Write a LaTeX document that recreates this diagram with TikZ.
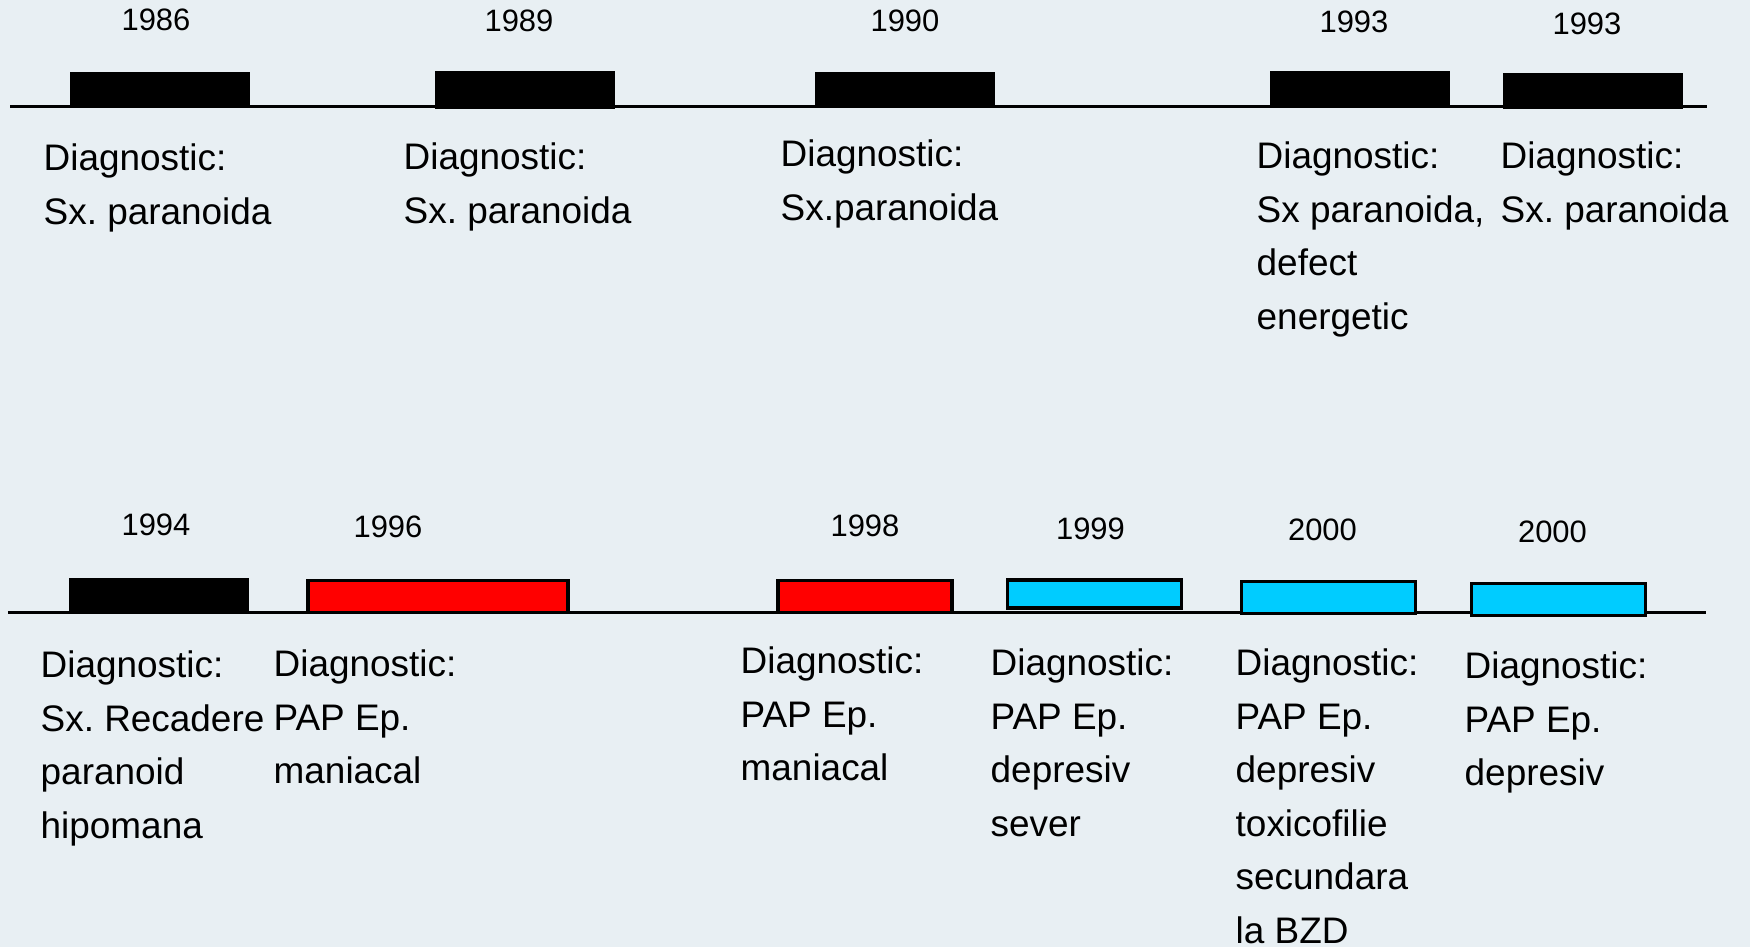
\documentclass[tikz,border=0pt]{standalone}
\usepackage{fontspec}
\setmainfont{Liberation Sans}
\usetikzlibrary{positioning}
\definecolor{bgblue}{HTML}{E8EFF3}
\definecolor{epred}{HTML}{FF0000}
\definecolor{epcyan}{HTML}{00CCFF}
\frenchspacing

\begin{document}
\begin{tikzpicture}[x=0.01cm, y=-0.01cm,
    axis/.style={line width=0.85pt},
    blk/.style={fill=black, minimum width=1.8cm, minimum height=0.35cm, inner sep=0},
    boxed/.style={draw=black, line width=1.1pt, minimum width=1.74cm, minimum height=0.32cm, inner sep=0},
    year/.style={font=\fontsize{8.8}{10}\selectfont, inner sep=0},
    diag/.style={font=\fontsize{10.5}{15.25}\selectfont, align=left, anchor=north west, inner sep=0}]
        \fill[bgblue] (0,0) rectangle (1750,947);
        \useasboundingbox (0,0) rectangle (1750,947);

        % the two time axes
        \coordinate (t1) at (10,106);
        \coordinate (t2) at (1707,106);
        \coordinate (b1) at (8,612);
        \coordinate (b2) at (1706,612);
        \draw[axis] (t1) -- (t2);
        \draw[axis] (b1) -- (b2);

        % first row
        \node[blk] (a) at (160,89) {};
        \node[blk, minimum height=0.38cm] (b) at (525,90) {};
        \node[blk, minimum height=0.36cm] (c) at (905,90) {};
        \node[blk] (d) at (1360,88.5) {};
        \node[blk, minimum height=0.36cm] (e) at (1593,91) {};

        \node[year, xshift=-0.04cm] (ya) [above=0.39cm of a] {1986};
        \node[year, xshift=-0.06cm] (yb) [above=0.38cm of b] {1989};
        \node[year] (yc) [above=0.39cm of c] {1990};
        \node[year, xshift=-0.06cm] (yd) [above=0.37cm of d] {1993};
        \node[year, xshift=-0.06cm] (ye) [above=0.37cm of e] {1993};

        \node[diag] (da) at (43,143) {Diagnostic:\\Sx. paranoida};
        \node[diag] (db) at (403,142) {Diagnostic:\\Sx. paranoida};
        \node[diag] (dc) at (780,139) {Diagnostic:\\Sx.paranoida};
        \node[diag] (dd) at (1256,141) {Diagnostic:\\Sx paranoida,\\defect\\energetic};
        \node[diag] (de) at (1500,141) {Diagnostic:\\Sx. paranoida};

        % second row
        \node[blk] (f) at (159,595) {};
        \node[boxed, fill=epred, minimum width=2.6cm] (g) at (438,596.5) {};
        \node[boxed, fill=epred] (h) at (865,596.5) {};
        \node[boxed, fill=epcyan, minimum height=0.28cm] (i) at (1094.5,594) {};
        \node[boxed, fill=epcyan] (j) at (1328.5,597.5) {};
        \node[boxed, fill=epcyan] (k) at (1558.5,599.5) {};

        \node[year, xshift=-0.03cm] (yf) [above=0.40cm of f] {1994};
        \node[year, xshift=-0.5cm] (yg) [above=0.40cm of g] {1996};
        \node[year] (yh) [above=0.41cm of h] {1998};
        \node[year, xshift=-0.04cm] (yi) [above=0.38cm of i] {1999};
        \node[year, xshift=-0.06cm] (yj) [above=0.38cm of j] {2000};
        \node[year, xshift=-0.06cm] (yk) [above=0.38cm of k] {2000};

        \node[diag] (df) at (40,650) {Diagnostic:\\Sx. Recadere\\paranoid\\hipomana};
        \node[diag] (dg) at (273,649) {Diagnostic:\\PAP Ep.\\maniacal};
        \node[diag] (dh) at (740,646) {Diagnostic:\\PAP Ep.\\maniacal};
        \node[diag] (di) at (990,648) {Diagnostic:\\PAP Ep.\\depresiv\\sever};
        \node[diag] (dj) at (1235,648) {Diagnostic:\\PAP Ep.\\depresiv\\toxicofilie\\secundara\\la BZD};
        \node[diag] (dk) at (1464,651) {Diagnostic:\\PAP Ep.\\depresiv};
    \end{tikzpicture}
\end{document}
